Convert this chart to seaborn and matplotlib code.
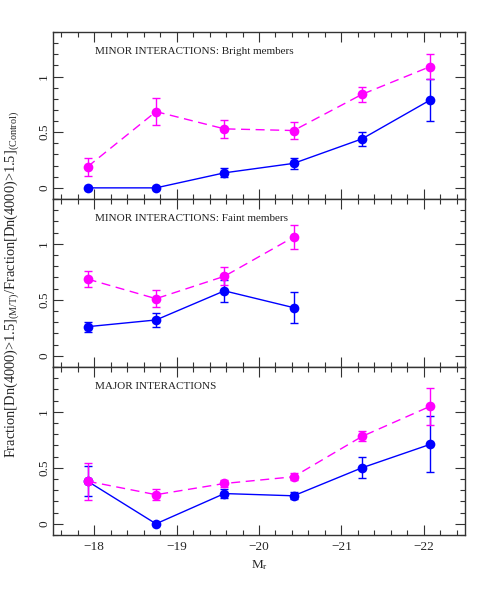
import numpy as np
import pandas as pd
import matplotlib
matplotlib.use("Agg")
import matplotlib.pyplot as plt
import seaborn as sns
from matplotlib.ticker import MultipleLocator

sns.set_theme(style="white")
plt.rcParams['font.family'] = ['Liberation Serif', 'DejaVu Serif']
plt.rcParams['mathtext.fontset'] = 'custom'
plt.rcParams['mathtext.rm'] = 'Liberation Serif'
plt.rcParams['mathtext.it'] = 'Liberation Serif:italic'

# Absolute magnitude bins
mag = [-17.92, -18.75, -19.58, -20.42, -21.25, -22.08]

titles = ["MINOR INTERACTIONS: Bright members",
          "MINOR INTERACTIONS: Faint members",
          "MAJOR INTERACTIONS"]

# Panel 1: minor, bright
p1_blue = [0.0, 0.0, 0.135, 0.22, 0.44, 0.79]
p1_blue_err = [0.0, 0.0, 0.04, 0.05, 0.066, 0.185]
p1_mag = [0.19, 0.685, 0.53, 0.515, 0.84, 1.09]
p1_mag_err = [0.08, 0.12, 0.08, 0.075, 0.065, 0.11]

# Panel 2: minor, faint (4 bins)
p2_blue = [0.26, 0.32, 0.58, 0.43]
p2_blue_err = [0.045, 0.06, 0.10, 0.14]
p2_mag = [0.685, 0.51, 0.71, 1.06]
p2_mag_err = [0.07, 0.075, 0.08, 0.11]

# Panel 3: major
p3_blue = [0.38, 0.0, 0.27, 0.25, 0.50, 0.71]
p3_blue_err = [0.135, 0.0, 0.04, 0.03, 0.095, 0.25]
p3_mag = [0.38, 0.26, 0.36, 0.42, 0.78, 1.05]
p3_mag_err = [0.165, 0.05, 0.03, 0.03, 0.045, 0.165]

panels = [
    (p1_blue, p1_blue_err, p1_mag, p1_mag_err),
    (p2_blue, p2_blue_err, p2_mag, p2_mag_err),
    (p3_blue, p3_blue_err, p3_mag, p3_mag_err),
]

BLUE = '#0000ff'
MAGENTA = '#ff00ff'
FRAME = '#333333'

W, H = 491, 599
fig = plt.figure(figsize=(W / 100, H / 100), dpi=100)
left = 53 / W
width = (465 - 53) / W
tops = [32, 199, 367]
bots = [199, 367, 535]

axes = []
for i, (bv, be, mv, me) in enumerate(panels):
    y0 = 1 - bots[i] / H
    h = (bots[i] - tops[i]) / H
    ax = fig.add_axes([left, y0, width, h])
    axes.append(ax)
    n = len(bv)
    x = mag[:n]
    dfb = pd.DataFrame({'M': x, 'f': bv})
    dfm = pd.DataFrame({'M': x, 'f': mv})
    ax.errorbar(x, bv, yerr=be, fmt='none', ecolor=BLUE, elinewidth=1.0,
                capsize=3.2, capthick=1.0, zorder=2)
    sns.lineplot(data=dfb, x='M', y='f', ax=ax, color=BLUE, lw=1.0,
                 marker='o', markersize=7, markeredgewidth=0, zorder=3,
                 sort=False)
    ax.errorbar(x, mv, yerr=me, fmt='none', ecolor=MAGENTA, elinewidth=1.0,
                capsize=3.2, capthick=1.0, zorder=4)
    sns.lineplot(data=dfm, x='M', y='f', ax=ax, color=MAGENTA, lw=1.0,
                 marker='o', markersize=7, markeredgewidth=0, zorder=5,
                 sort=False, dashes=False)
    # make magenta line dashed
    ax.lines[-1].set_dashes([6.5, 4])

    ax.set_xlim(-17.5, -22.5)
    ax.set_ylim(-0.1, 1.4)
    ax.set_xlabel('')
    ax.set_ylabel('')
    ax.xaxis.set_major_locator(MultipleLocator(1))
    ax.xaxis.set_minor_locator(MultipleLocator(0.2))
    ax.yaxis.set_major_locator(MultipleLocator(0.5))
    ax.yaxis.set_minor_locator(MultipleLocator(0.1))
    ax.tick_params(which='both', direction='in', top=True, right=True,
                   bottom=True, left=True, color=FRAME, width=0.8)
    ax.tick_params(which='major', length=7)
    ax.tick_params(which='minor', length=3.5)
    ax.tick_params(axis='y', labelsize=9.5, labelrotation=90, pad=2)
    ax.tick_params(axis='x', labelsize=9.5, pad=4)
    ax.set_yticks([0, 0.5, 1])
    ax.set_yticklabels(['0', '0.5', '1'], va='center')
    if i < 2:
        ax.tick_params(axis='x', labelbottom=False)
    else:
        ax.set_xticks([-18, -19, -20, -21, -22])
        ax.set_xticklabels(['\u221218', '\u221219', '\u221220', '\u221221', '\u221222'])
    for s in ax.spines.values():
        s.set_color(FRAME)
        s.set_linewidth(1.0)
    ax.text(0.102, 0.886 if i == 0 else 0.885, titles[i], transform=ax.transAxes,
            fontsize=8, ha='left', va='center', color='#222222')
    ax.set_facecolor('white')

axes[2].set_xlabel(r'M$_{\rm r}$', fontsize=9.5, labelpad=4)
fig.text(12 / W, 1 - 284 / H,
         r'Fraction[Dn(4000)>1.5]$_{\rm (M/T)}$/Fraction[Dn(4000)>1.5]$_{\rm (Control)}$',
         rotation=90, fontsize=10.4, ha='center', va='center')

fig.savefig('out.png', dpi=100, facecolor='white')
